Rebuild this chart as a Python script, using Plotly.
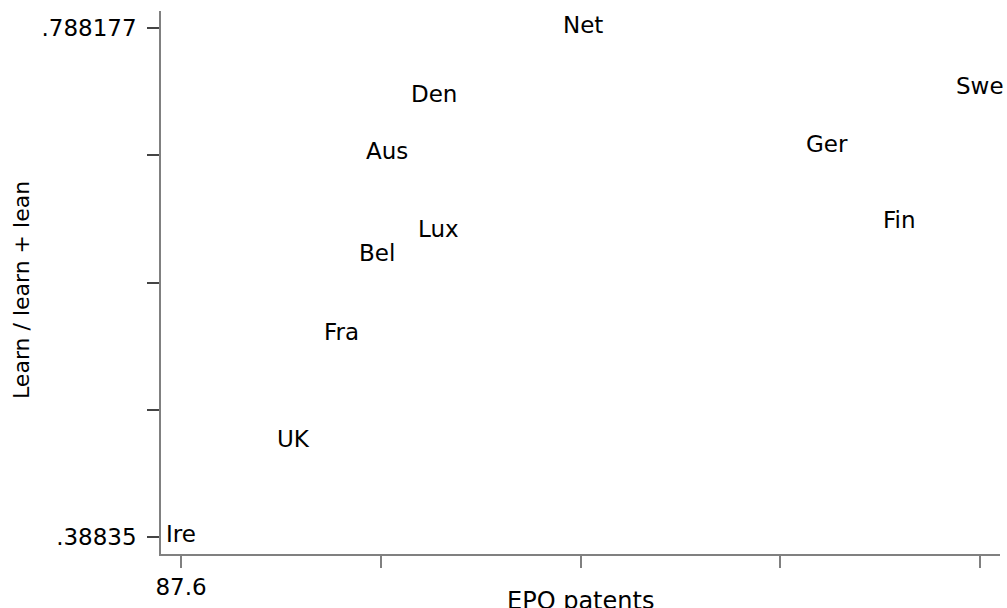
import plotly.graph_objects as go

# Country labels and their coordinates
countries = ["Net", "Swe", "Den", "Ger", "Aus", "Fin", "Lux", "Bel", "Fra", "UK", "Ire"]
epo_patents = [217.8, 346.4, 169.4, 297.0, 154.2, 320.3, 171.0, 151.2, 139.7, 124.0, 87.6]
learn_share = [0.788177, 0.7403, 0.7340, 0.6947, 0.6892, 0.6350, 0.6283, 0.6091, 0.5470, 0.4630, 0.38835]

# Axis ticks: only the extremes carry labels
x_ticks = [87.6, 152.3, 217.0, 281.7, 346.4]
x_tick_text = ["87.6", "", "", "", "346.4"]
y_ticks = [0.38835, 0.48831, 0.58826, 0.68822, 0.788177]
y_tick_text = [".38835", "", "", "", ".788177"]

FONT = "DejaVu Sans"
AXIS_GREY = "#808080"
LABEL_FONT = dict(family=FONT, size=23, color="#000000")

# Invisible points: the countries are shown by their labels only
fig = go.Figure(
    go.Scatter(
        x=epo_patents,
        y=learn_share,
        mode="markers",
        marker=dict(size=1, opacity=0),
        cliponaxis=False,
        hoverinfo="skip",
    )
)

# Marker labels centred on each point, nudged slightly upward
label_annotations = [
    dict(
        x=xv, y=yv, xref="x", yref="y",
        text=name,
        showarrow=False,
        xanchor="center", yanchor="middle",
        yshift=3,
        font=LABEL_FONT,
    )
    for name, xv, yv in zip(countries, epo_patents, learn_share)
]

title_annotations = [
    dict(
        text="EPO patents",
        xref="paper", yref="paper",
        x=0.5, y=-0.0571,
        xanchor="center", yanchor="top",
        showarrow=False,
        font=dict(family=FONT, size=24, color="#000000"),
    ),
    dict(
        text="Learn / learn + lean",
        xref="paper", yref="paper",
        x=(21 - 161) / 839, y=(554 - 290) / 543,
        xanchor="center", yanchor="middle",
        textangle=-90,
        showarrow=False,
        font=dict(family=FONT, size=22, color="#000000"),
    ),
]

fig.update_layout(
    width=1007,
    height=608,
    margin=dict(l=161, r=7, t=11, b=54),
    paper_bgcolor="white",
    plot_bgcolor="white",
    showlegend=False,
    font=LABEL_FONT,
    xaxis=dict(
        range=[81.12, 352.88],
        tickmode="array",
        tickvals=x_ticks,
        ticktext=x_tick_text,
        ticks="outside",
        ticklen=12,
        tickwidth=1.5,
        tickcolor=AXIS_GREY,
        showgrid=False,
        zeroline=False,
        showline=True,
        linecolor=AXIS_GREY,
        linewidth=1.5,
        tickfont=LABEL_FONT,
    ),
    yaxis=dict(
        range=[0.374996, 0.801531],
        tickmode="array",
        tickvals=y_ticks,
        ticktext=y_tick_text,
        ticks="outside",
        ticklen=12,
        tickwidth=1.5,
        tickcolor="#444444",
        ticklabelstandoff=6,
        showgrid=False,
        zeroline=False,
        showline=True,
        linecolor=AXIS_GREY,
        linewidth=1.5,
        tickfont=LABEL_FONT,
    ),
    annotations=label_annotations + title_annotations,
)

fig.write_html("out.html")
